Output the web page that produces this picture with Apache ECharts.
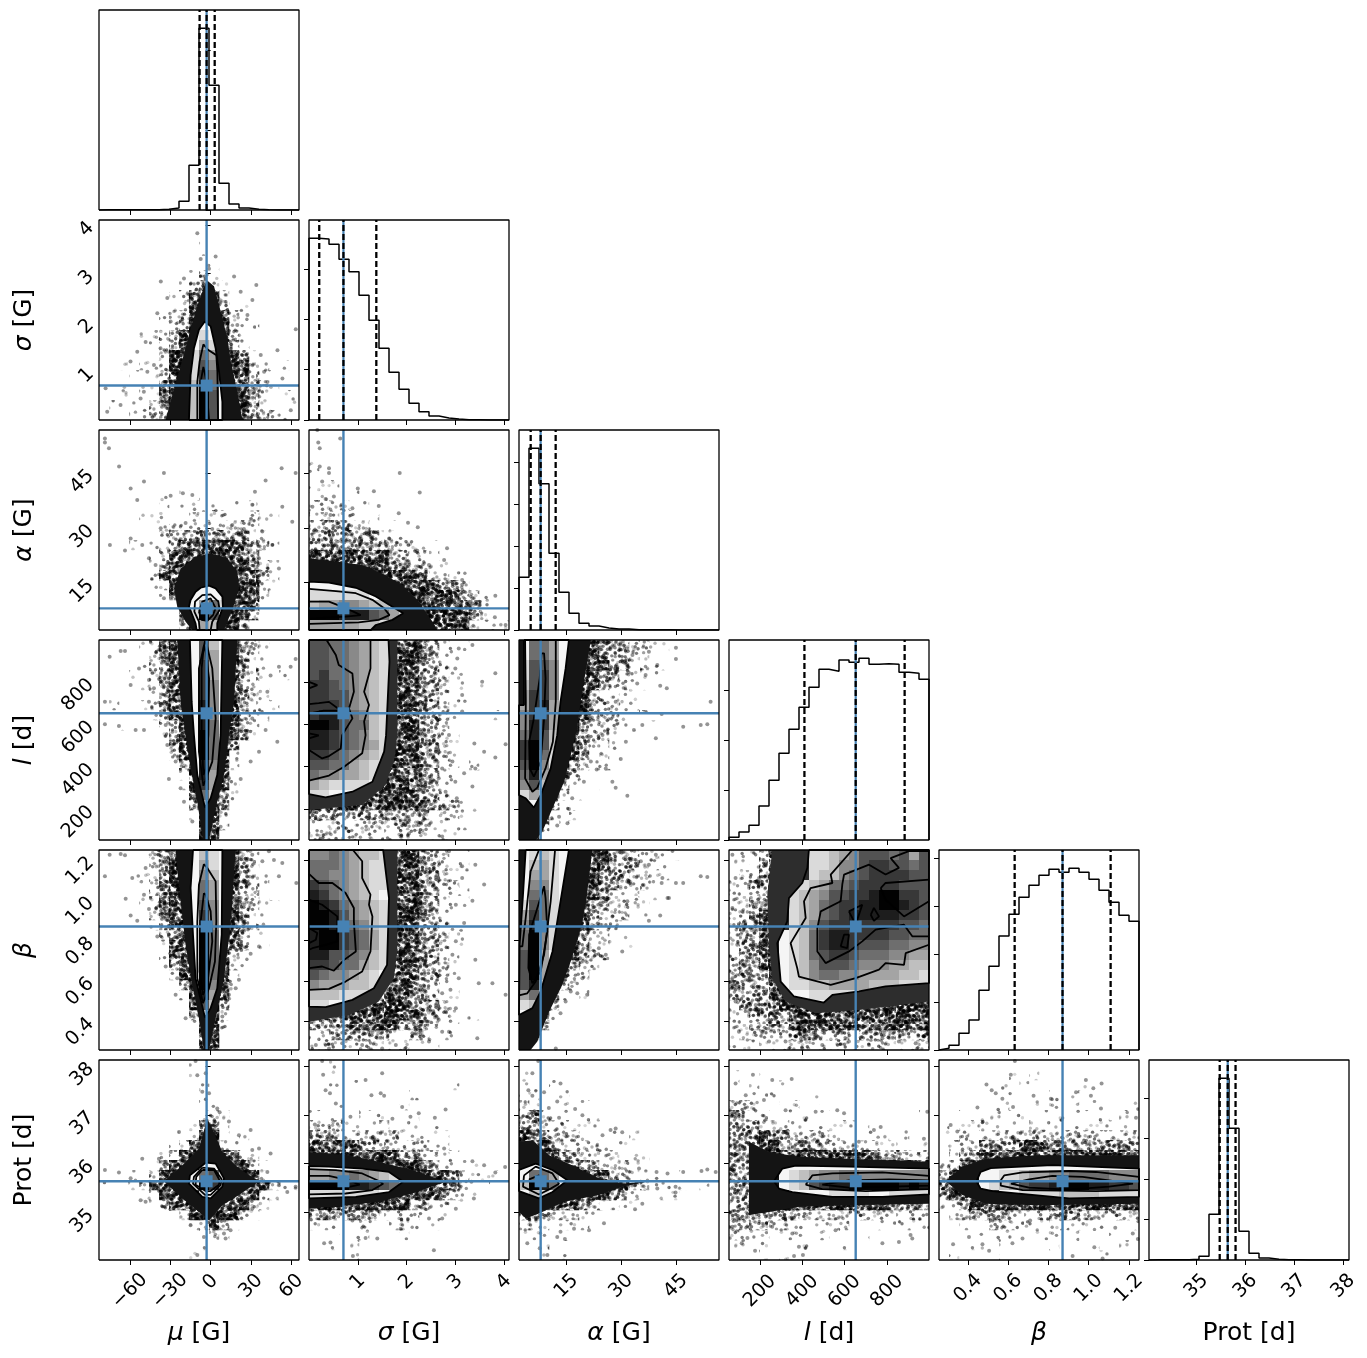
<!DOCTYPE html>
<html>
<head>
<meta charset="utf-8">
<title>corner plot</title>
<script src="https://cdn.jsdelivr.net/npm/echarts@6/dist/echarts.min.js"></script>
<style>
  html, body { margin: 0; padding: 0; background: #fff; }
  #chart { width: 1367px; height: 1358px; }
</style>
</head>
<body>
<div id="chart"></div>
<script>
'use strict';
// parameters, in corner order
var paramTitles = ['{i|μ} [G]', '{i|σ} [G]', '{i|α} [G]', '{i|l} [d]', '{i|β}', 'Prot [d]'];
var ranges = [[-82.9, 65.6], [0, 4.1], [2.03, 56.8], [54, 998], [0.256, 1.25], [34.03, 38.12]];
var ticks = [
  [-60, -30, 0, 30, 60],
  [1, 2, 3, 4],
  [15, 30, 45],
  [200, 400, 600, 800],
  [0.4, 0.6, 0.8, 1.0, 1.2],
  [35, 36, 37, 38]
];
var truth = [-3, 0.706, 7.96, 652, 0.87, 35.64];
var quantiles = [
  [-8.2, -3, 3],
  [0.21, 0.706, 1.38],
  [5.23, 7.96, 12.07],
  [410, 652, 883],
  [0.632, 0.87, 1.109],
  [35.476, 35.64, 35.8]
];

// histograms, 20 bins each, heights
var histMu = [0.2, 0.2, 0.2, 0.2, 0.2, 0.2, 0.7, 2, 8.7, 44.7, 181.7, 124.7, 26.7, 6, 2, 0.7, 0.2, 0, 0, 0];
var histSigma = [181.7, 181, 175.7, 160.7, 148.3, 124.7, 99.7, 71.7, 47.7, 30.7, 16.7, 8.3, 4, 2, 1, 0.3, 0.2, 0, 0, 0];
var histAlpha = [52.7, 181.7, 146.3, 76.7, 37.7, 16.7, 6.7, 4, 2, 1, 1, 0.3, 0.3, 0.2, 0.2, 0, 0, 0, 0, 0];
var histL = [2.7, 8, 14.7, 34, 59.7, 86.7, 110.7, 132.7, 152.7, 170.7, 168.7, 180, 177.7, 181.7, 175.7, 176.3, 175.7, 167.7, 166.7, 160.7];
var histBeta = [1.7, 4.7, 16.7, 30, 59.7, 83.7, 114, 135.7, 152.7, 164.7, 174.7, 180.7, 177.7, 181.7, 177.7, 170.7, 159.7, 147.7, 134.7, 128.7];
var histProt = [0.2, 0.2, 0.2, 0.2, 0.7, 3.7, 45.7, 181.7, 131.7, 28.7, 6.7, 2, 0.7, 0.2, 0.2, 0, 0, 0, 0, 0];
var histTicks = [
  [0, 80, 160],
  [0, 50.3, 100.6, 150.9],
  [0, 42, 84, 126, 168],
  [0, 50, 100, 150],
  [0, 48, 96, 144, 192],
  [0, 40.5, 81, 121.5, 162]
];

// density of the cloud per bin, top row first: . none, 1-4 thin to thick speckle
var fringeMuSigma = [
  '....................',
  '....................',
  '..........1.........',
  '..........1.........',
  '..........11........',
  '.........121........',
  '........12321.......',
  '.......1245421......',
  '.......12455311.....',
  '......123555421.....',
  '......1235554211....',
  '....11235555421.....',
  '...1.1235555431.1...',
  '...11.2455555431....',
  '..1.1124555555421.1.',
  '...1.1245555554211..',
  '..1.11345555555321..',
  '..1.1134555555532111',
  '.1.11234555555532.11',
  '.1.1123455555553211.'
];
var fringeMuAlpha = [
  '....................',
  '....................',
  '....................',
  '....................',
  '....................',
  '....................',
  '......1.1.11........',
  '....1.1.1111.1.1....',
  '....11111212111211..',
  '.....1122222222211..',
  '.....123333333322.1.',
  '...1.1234444444321..',
  '.....124555555431...',
  '.....1345555555321..',
  '.....2455555555531..',
  '.....1245555555421..',
  '......14555555542...',
  '.......1455555541...',
  '........34555543....',
  '........2455542.....'
];
var fringeSigmaAlpha = [
  '....................',
  '....................',
  '....................',
  '1...................',
  '1...................',
  '111.................',
  '111.1...............',
  '2222.1..............',
  '22211.1.............',
  '3333221.1...........',
  '33333332211.........',
  '3333333322211.......',
  '4444444433221.......',
  '55555544333221......',
  '5555555554432211....',
  '55555555555443321...',
  '555555555555544321..',
  '5555555555555544321.',
  '5555555555555554321.',
  '55555555555555542111'
];
var fringeMuL = [
  '....1234555554321...',
  '....1234555554321...',
  '....1234555554321...',
  '...1.234555554321.1.',
  '....1234555554321...',
  '.....234555554321...',
  '.1..12345555543211..',
  '.....134555554321...',
  '..1...23555554321...',
  '......1345555431....',
  '.......34555431.....',
  '.......2455541......',
  '........345542......',
  '........245541......',
  '........145541......',
  '.........45531......',
  '.........35531......',
  '.........1552.......',
  '..........552.......',
  '..........45........'
];
var fringeSigmaL = [
  '6666666666433211....',
  '6666666666433211....',
  '6666666666433211....',
  '6666666666433211....',
  '6666666666433211.1..',
  '6666666666433211....',
  '6666666666433211....',
  '666666666543321...1.',
  '666666666543321.....',
  '666666666543321.....',
  '666666666543321.....',
  '666666666543321.....',
  '666666666443321.1...',
  '666666666433321.....',
  '666666666433321.....',
  '6666666666433211....',
  '66666666554433211...',
  '33333333333322211...',
  '2222222223322111....',
  '222222222222111.....'
];
var fringeAlphaL = [
  '555555543332211.....',
  '555555543332211.....',
  '555555544332211.....',
  '55555554332211......',
  '5555555432211.......',
  '555555432211........',
  '555555432211........',
  '55555543221.1.......',
  '555555322211.1......',
  '5555543221..........',
  '5555543221..........',
  '5555543121..........',
  '5555532111..........',
  '5555431.............',
  '555531.1............',
  '55542.1.............',
  '55431...............',
  '5442.1..............',
  '342.1...............',
  '351.................'
];
var fringeMuBeta = [
  '....1234555554321...',
  '...11234555554321...',
  '...11234555554321...',
  '....1234555554321...',
  '....1234555554321...',
  '....12345555543211..',
  '.....234555554321...',
  '.....134555554321...',
  '......23555554311...',
  '......14555554311...',
  '......145555421.....',
  '.......34555421.....',
  '.......2455541......',
  '........345541......',
  '........145541......',
  '.........4553.......',
  '.........3552.......',
  '.........1551.......',
  '..........55........',
  '..........45........'
];
var fringeSigmaBeta = [
  '6666666666433211....',
  '6666666666433211....',
  '6666666666433211....',
  '6666666666433221....',
  '6666666666433211....',
  '6666666666433211....',
  '6666666666433211....',
  '6666666666433211....',
  '6666666666433211....',
  '6666666666433211....',
  '666666666643321.1...',
  '666666666543321.1...',
  '666666666443321.....',
  '666666664433211.....',
  '666666664433211.....',
  '66666666553332111...',
  '66666666554332111...',
  '333344444333211.....',
  '223333332222111.....',
  '2222222222111.......'
];
var fringeAlphaBeta = [
  '5555555543332211....',
  '555555554333221.....',
  '555555543332211.....',
  '55555554332221......',
  '55555554322211......',
  '5555554332211.......',
  '5555554322211.......',
  '555555432211........',
  '55555532211.........',
  '5555543221.1........',
  '555554322...........',
  '55555322............',
  '5555322.............',
  '555432..............',
  '55531.1.............',
  '5542................',
  '5531................',
  '542.................',
  '53..................',
  '41..................'
];
var fringeLBeta = [
  '11234666666666666666',
  '11234666666666666666',
  '12234566666666666666',
  '22334566666666666666',
  '22334566666666666666',
  '22334566666666666666',
  '22344666666666666666',
  '23344666666666666666',
  '23344666666666666666',
  '23344666666666666666',
  '23344666666666666666',
  '23344666666666666666',
  '23334666666666666666',
  '33334666666666666666',
  '33334466666666666666',
  '23333466666666666666',
  '22333346666666666666',
  '22333344444443444444',
  '12222333333323333333',
  '11122222222222222222'
];
var fringeMuProt = [
  '.........1..........',
  '.........1..........',
  '..........1.........',
  '..........1.........',
  '..........11........',
  '..........221.......',
  '.........1331.......',
  '.......1.1441.1.....',
  '.......1245421......',
  '......1245555421....',
  '.....124555555421...',
  '...1.245555555542.1.',
  '1.112455555555554211',
  '....12455555555421..',
  '.....124555555421...',
  '.......124555421....',
  '.........12421......',
  '..........121.......',
  '..........1.........',
  '.........1..........'
];
var fringeSigmaProt = [
  '..1.................',
  '..1.................',
  '..1.1.........1.....',
  '...1......1.........',
  '...1...1.1..........',
  '1111.1111.1.........',
  '22221112111.1.......',
  '33322222211111......',
  '44444332222211......',
  '555555444332221.....',
  '55555555544332111...',
  '5555555555554432111.',
  '55555555555554421.1.',
  '55555555555543211...',
  '5555554444332211....',
  '33333332222111......',
  '1111121.121.1.......',
  '..1.11.1.1..........',
  '..1.1...............',
  '....1...............'
];
var fringeAlphaProt = [
  '....................',
  '1...................',
  '11.1................',
  '11.11...............',
  '21.11.1.............',
  '33211.11............',
  '332221111...........',
  '4332221111.1........',
  '54432222111.........',
  '5554332222111.......',
  '5555543322211.......',
  '555555544322111.1...',
  '55555555554321111.1.',
  '5555555543321.11....',
  '555544332211........',
  '333222111...........',
  '2221111.............',
  '1111................',
  '1.1.1...............',
  '..1.1...............'
];
var fringeLProt = [
  '....................',
  '1..1................',
  '1.1..1..............',
  '11111...1...........',
  '22211.1.1...........',
  '3322111111.........1',
  '33322211111111......',
  '3334332222111111.1..',
  '33344333332222211111',
  '33345555544444433222',
  '33355555555555555544',
  '33455555555555555555',
  '33455555555555555555',
  '33445555555555555555',
  '33345554444444443333',
  '33333332222222222222',
  '22332211111211111111',
  '2112111111.1.1..1...',
  '11.1.1.1...1........',
  '...1.1..............'
];
var fringeBetaProt = [
  '....................',
  '.......1.1..........',
  '....1.1.1.....1..1..',
  '....1111...1.1......',
  '.....11..1.111.1...1',
  '..1.1111111111111.11',
  '1.112111121111111111',
  '11212222222222222222',
  '12223333444333333333',
  '12334444445554444444',
  '23455555555555555555',
  '34555555555555555555',
  '45555555555555555555',
  '34555555555555555555',
  '22344445555544444444',
  '12233332222333322222',
  '..1.1222211221111111',
  '...111111111.1.1.1..',
  '...11.1....1.1.1..1.',
  '.1....1.........1...'
];

// outline of the solid dark mass of each cloud, in data values
var denseMuSigma = [[-3, 2.87], [-8.7, 2.43], [-14.9, 1.88], [-18.6, 1.47], [-23.5, 0.99], [-28.5, 0.51], [-33.4, 0], [23.6, 0], [19.8, 0.58], [14.9, 1.2], [12.4, 1.68], [7.5, 2.22], [2.5, 2.74]];
var denseMuAlpha = [[-18.6, 4.3], [-24.8, 8.4], [-27.2, 13.4], [-22.3, 18.9], [-11.2, 22.1], [0, 23], [12.4, 21.7], [19.8, 18], [21, 13.4], [17.3, 8.9], [12.4, 4.3], [9.9, 2.03], [-13.6, 2.03]];
var denseSigmaAlpha = [[0, 21.7], [0.55, 20.8], [1.09, 19.8], [1.5, 17.5], [1.91, 14.4], [2.25, 9.8], [2.53, 4.3], [2.63, 2.03], [0, 2.03]];
var denseMuL = [[-24.8, 998], [-22.3, 707], [-18.6, 550], [-14.9, 392], [-9.9, 235], [-5.7, 54], [-1.2, 54], [3.7, 204], [9.9, 361], [13.6, 550], [17.3, 707], [19.8, 998]];
var denseSigmaL = [[0, 998], [1.81, 998], [1.81, 550], [1.74, 424], [1.57, 314], [1.09, 219], [0, 196]];
var denseAlphaL = [[2.03, 998], [21.7, 998], [18.9, 707], [18, 581], [16.2, 455], [14.4, 329], [11.6, 219], [8.4, 93], [6.6, 54], [2.03, 54]];
var denseMuBeta = [[-26, 1.25], [-22.3, 0.995], [-18.6, 0.779], [-13.6, 0.58], [-8.7, 0.414], [-5, 0.256], [-1.2, 0.256], [3.7, 0.414], [9.9, 0.613], [13.6, 0.812], [16.1, 0.995], [18.6, 1.25]];
var denseSigmaBeta = [[0, 1.25], [1.81, 1.25], [1.81, 0.746], [1.74, 0.613], [1.43, 0.497], [0.82, 0.43], [0, 0.397]];
var denseAlphaBeta = [[2.03, 1.25], [22.1, 1.25], [20.3, 0.978], [18.5, 0.829], [16.2, 0.696], [13.9, 0.58], [10.3, 0.447], [7.05, 0.298], [5.2, 0.256], [2.03, 0.256]];
var denseLBeta = [[258, 1.25], [235, 1.028], [243, 0.779], [258, 0.613], [321, 0.497], [463, 0.439], [667, 0.455], [998, 0.497], [998, 1.25]];
var denseMuProt = [[-2.5, 36.92], [-8.7, 36.31], [-21, 35.97], [-34.7, 35.64], [-21, 35.29], [-8.7, 35.01], [-1.2, 34.84], [8.7, 35.15], [21, 35.36], [35.9, 35.64], [21, 35.9], [8.7, 36.24], [1.2, 36.72]];
var denseSigmaProt = [[0, 36.24], [0.82, 36.17], [1.43, 36.04], [2.12, 35.87], [2.8, 35.63], [2.12, 35.39], [1.43, 35.22], [0.82, 35.15], [0, 35.08]];
var denseAlphaProt = [[2.03, 36.45], [5.7, 36.48], [10.3, 36.17], [16.6, 35.97], [23.9, 35.7], [30.3, 35.59], [37.6, 35.64], [30.3, 35.53], [23.9, 35.36], [14.4, 35.22], [7.5, 34.98], [3.9, 34.88], [2.03, 35.01]];
var denseLProt = [[148, 36.45], [243, 36.24], [384, 36.14], [620, 36.1], [998, 36.04], [998, 35.18], [620, 35.15], [384, 35.12], [243, 35.01], [148, 34.95]];
var denseBetaProt = [[0.289, 35.64], [0.372, 35.94], [0.488, 36.1], [0.737, 36.17], [1.25, 36.17], [1.25, 35.18], [0.737, 35.15], [0.488, 35.18], [0.372, 35.36]];

// grey level of each bin inside the lowest contour, 0 palest to 9 black
var coreMuSigma = [
  '....................', '....................', '....................', '....................', '....................',
  '....................', '....................', '....................', '....................', '....................',
  '..........00........',
  '.........010........',
  '.........031........',
  '.........1530.......',
  '.........1640.......',
  '.........1750.......',
  '.........2850.......',
  '.........2960.......',
  '.........2960.......',
  '.........2960.......'
];
var coreMuAlpha = [
  '....................', '....................', '....................', '....................', '....................',
  '....................', '....................', '....................', '....................', '....................',
  '....................', '....................', '....................', '....................', '....................',
  '.........000........',
  '.........0000.......',
  '.........0351.......',
  '.........1960.......',
  '.........032........'
];
var coreSigmaAlpha = [
  '....................', '....................', '....................', '....................', '....................',
  '....................', '....................', '....................', '....................', '....................',
  '....................', '....................', '....................', '....................', '....................',
  '000000000...........',
  '1111110000000.......',
  '2334432211000.......',
  '9998886531000.......',
  '3333322100..........'
];
var coreMuL = [
  '.........0620.......',
  '.........0630.......',
  '.........0730.......',
  '.........0730.......',
  '.........0740.......',
  '.........0740.......',
  '.........0840.......',
  '.........0840.......',
  '.........0850.......',
  '.........0950.......',
  '.........0950.......',
  '.........0950.......',
  '.........0840.......',
  '.........0830.......',
  '.........0730.......',
  '.........0520.......',
  '..........20........',
  '..........10........',
  '....................',
  '....................'
];
var coreSigmaL = [
  '665543210...........',
  '665543210...........',
  '665543210...........',
  '675543210...........',
  '776543210...........',
  '776643210...........',
  '777643210...........',
  '788654210...........',
  '998655210...........',
  '887654210...........',
  '887654310...........',
  '776543210...........',
  '665532100...........',
  '544332100...........',
  '321111000...........',
  '110000000...........',
  '....................',
  '....................',
  '....................',
  '....................'
];
var coreAlphaL = [
  '05530...............',
  '05530...............',
  '16640...............',
  '16740...............',
  '26740...............',
  '37740...............',
  '37830...............',
  '47730...............',
  '48730...............',
  '58620...............',
  '79620...............',
  '79510...............',
  '69410...............',
  '58300...............',
  '46200...............',
  '13000...............',
  '00000...............',
  '....................',
  '....................',
  '....................'
];
var coreMuBeta = [
  '.........0210.......',
  '.........0310.......',
  '.........0420.......',
  '.........0530.......',
  '.........0530.......',
  '.........0640.......',
  '.........0740.......',
  '.........0840.......',
  '.........0950.......',
  '.........0950.......',
  '.........0950.......',
  '.........0950.......',
  '.........0950.......',
  '.........0940.......',
  '.........0830.......',
  '.........0620.......',
  '..........10........',
  '....................',
  '....................',
  '....................'
];
var coreSigmaBeta = [
  '445432210...........',
  '555432110...........',
  '554432110...........',
  '765432110...........',
  '875432100...........',
  '987543210...........',
  '998643210...........',
  '998654210...........',
  '899765310...........',
  '899765310...........',
  '886654210...........',
  '776553210...........',
  '654432100...........',
  '433322100...........',
  '222111000...........',
  '110000000...........',
  '....................',
  '....................',
  '....................',
  '....................'
];
var coreAlphaBeta = [
  '01210...............',
  '02310...............',
  '03310...............',
  '04410...............',
  '05510...............',
  '16510...............',
  '37510...............',
  '48410...............',
  '59410...............',
  '59410...............',
  '69300...............',
  '69300...............',
  '69300...............',
  '68200...............',
  '35100...............',
  '12000...............',
  '0000................',
  '....................',
  '....................',
  '....................'
];
var coreLBeta = [
  '........112346665636',
  '........112446776656',
  '........122456777766',
  '......11235567777666',
  '......12346677899776',
  '......12356778899876',
  '......12356788888776',
  '......12467787777665',
  '.....012578877776655',
  '.....012578876665544',
  '.....012567765554433',
  '.....012466654443322',
  '.....012455443333221',
  '.....011223333222111',
  '......00111111100000',
  '.......00000........',
  '....................',
  '....................',
  '....................',
  '....................'
];
var coreMuProt = [
  '....................', '....................', '....................', '....................', '....................',
  '....................', '....................', '....................', '....................', '....................',
  '..........00........',
  '.........0561.......',
  '.........1971.......',
  '..........10........',
  '....................', '....................', '....................', '....................', '....................', '....................'
];
var coreSigmaProt = [
  '....................', '....................', '....................', '....................', '....................',
  '....................', '....................', '....................', '....................', '....................',
  '000000000000........',
  '3344543210000.......',
  '9999887653100.......',
  '1111111000..........',
  '....................', '....................', '....................', '....................', '....................', '....................'
];
var coreAlphaProt = [
  '....................', '....................', '....................', '....................', '....................',
  '....................', '....................', '....................', '....................', '....................',
  '00000...............',
  '05530...............',
  '29850...............',
  '02100...............',
  '....................', '....................', '....................', '....................', '....................', '....................'
];
var coreLProt = [
  '....................', '....................', '....................', '....................', '....................',
  '....................', '....................', '....................', '....................', '....................',
  '.....000000000000000',
  '.....012344554444444',
  '.....012678899999898',
  '......00001111001111',
  '....................', '....................', '....................', '....................', '....................', '....................'
];
var coreBetaProt = [
  '....................', '....................', '....................', '....................', '....................',
  '....................', '....................', '....................', '....................', '....................',
  '....0000000000000000',
  '....0011233445555444',
  '....0123677899988776',
  '......00111122221111',
  '....................', '....................', '....................', '....................', '....................', '....................'
];

// contour paths in data values; the first one is the lowest level and bounds the grey bins
var contoursMuSigma = [
  [[-16.1, 0], [-14.9, 0.92], [-12.4, 1.47], [-8.7, 1.85], [-4.4, 2.02], [0, 1.92], [3.7, 1.47], [6.2, 0.99], [8.7, 0.37], [8.7, 0]],
  [[-9.9, 0], [-9.9, 0.78], [-8.2, 1.2], [-5.4, 1.55], [-2, 1.44], [4.2, 1.33], [5, 0.99], [5.5, 0]],
  [[-7.9, 0], [-7.4, 0.78], [-5.4, 1.09], [-3.5, 0.85], [-1.2, 0]]
];
var contoursMuAlpha = [
  [[-10.4, 2.03], [-11.2, 3.86], [-13.6, 6.14], [-16.1, 8.42], [-14.9, 10.25], [-11.2, 12.5], [-7.4, 13.6], [-1.2, 14.17], [3.7, 13.44], [8.7, 11.16], [9.1, 8.42], [4.9, 3.86], [4.9, 2.03]],
  [[-8.2, 2.03], [-8.7, 4.3], [-12.1, 7.05], [-11.6, 9.8], [-6.2, 11.6], [0, 11.8], [5.7, 9.8], [6.7, 7.5], [1.2, 4.3], [0, 2.03]],
  [[-8.7, 7.05], [-6.2, 9.8], [0, 10.7], [3.7, 8], [1.7, 6.1], [-2.5, 4.5], [-6.7, 4.8], [-8.7, 7.05]]
];
var contoursSigmaAlpha = [
  [[0, 15.27], [0.41, 15], [0.96, 13.6], [1.37, 11.2], [1.71, 8.4], [1.93, 6.6], [1.71, 4.8], [1.37, 3.4], [1.27, 2.03], [0, 2.03]],
  [[0, 13.3], [0.55, 12.7], [0.96, 12.1], [1.3, 10.3], [1.54, 8], [1.65, 6.1], [1.43, 4.8], [1.02, 4.1], [0, 3.7]],
  [[0, 9.8], [0.41, 9.8], [0.79, 7.8], [1.06, 6.1], [0.75, 5.7], [0.34, 5.4], [0, 5.05]]
];
var contoursMuL = [
  [[-15.4, 998], [-14.1, 707], [-12.4, 550], [-9.9, 361], [-4.2, 207], [0, 251], [4.9, 361], [7.4, 550], [8.7, 998]],
  [[-4, 998], [-8.7, 864], [-8.7, 471], [-5.4, 310], [1.2, 424], [3.7, 628], [1.2, 864], [-3.7, 998]],
  [[-5, 974], [-6.7, 864], [-6.7, 550], [-5.4, 361], [-3.7, 392], [-1.7, 550], [-1.2, 817], [-3.7, 943], [-5, 974]]
];
var contoursSigmaL = [
  [[0, 998], [1.63, 998], [1.65, 896], [1.58, 549], [1.54, 471], [1.3, 329], [0.89, 282], [0.34, 255], [0, 271]],
  [[1.26, 998], [1.26, 864], [1.13, 754], [1.23, 691], [1.13, 613], [1.16, 549], [1.09, 463], [0.72, 400], [0.41, 358], [0, 334]],
  [[0.36, 998], [0.55, 927], [0.61, 880], [0.89, 840], [0.92, 754], [0.82, 675], [0.89, 628], [0.68, 549], [0.65, 486], [0.41, 450], [0.27, 439], [0, 479]],
  [[0, 695], [0.2, 700], [0.41, 706], [0.65, 665], [0.3, 665], [0, 650]],
  [[0, 770], [0.17, 785], [0, 800]],
  [[0, 534], [0.2, 548], [0, 557]]
];
var contoursAlphaL = [
  [[3.4, 998], [3.4, 691], [2.03, 691], [2.03, 266], [3.86, 251], [6.1, 207], [7.97, 266], [10.7, 392], [12.5, 549], [13.4, 707], [14.8, 864], [15.7, 998]],
  [[3.7, 998], [3.9, 707], [3.7, 345], [5.7, 282], [7.05, 301], [9.3, 392], [11.3, 518], [12.1, 707], [12.1, 998]],
  [[8.2, 935], [7.7, 817], [6.1, 628], [4.8, 518], [4.95, 392], [6.1, 353], [7.97, 424], [8.9, 628], [9.3, 817], [8.9, 935], [8.2, 935]]
];
var contoursMuBeta = [
  [[-13.1, 1.25], [-14.9, 1.061], [-13.1, 0.829], [-11.2, 0.613], [-4.2, 0.417], [0, 0.464], [4.9, 0.563], [8.2, 0.829], [8.7, 1.25]],
  [[-5, 1.18], [-8.7, 1.078], [-9.9, 0.895], [-9.9, 0.613], [-5.7, 0.489], [-1.2, 0.563], [3.2, 0.696], [4.2, 0.895], [3.7, 1.094], [-2.5, 1.161], [-5, 1.18]],
  [[-5, 1.036], [-7.4, 0.895], [-8.2, 0.646], [-5.7, 0.53], [-2.5, 0.58], [1.2, 0.796], [0, 0.945], [-3.7, 1.028], [-5, 1.036]]
];
var contoursSigmaBeta = [
  [[0, 1.25], [1.52, 1.25], [1.64, 1.011], [1.6, 0.679], [1.33, 0.563], [0.89, 0.505], [0.34, 0.469], [0, 0.472]],
  [[0.9, 1.25], [1.09, 1.194], [1.09, 1.11], [1.26, 1.028], [1.23, 0.978], [1.3, 0.92], [1.26, 0.746], [1.09, 0.646], [0.75, 0.596], [0.41, 0.56], [0, 0.555]],
  [[0, 1.131], [0.2, 1.086], [0.48, 1.086], [0.75, 1.036], [0.92, 0.962], [0.92, 0.895], [0.96, 0.746], [0.72, 0.704], [0.51, 0.65], [0.27, 0.671], [0, 0.663]],
  [[0, 1.003], [0.27, 0.978], [0.58, 0.92], [0.58, 0.796], [0.34, 0.779], [0.07, 0.762], [0, 0.754]],
  [[0, 0.862], [0.17, 0.837], [0.14, 0.804], [0, 0.787]]
];
var contoursAlphaBeta = [
  [[3.86, 1.25], [3.13, 1.028], [2.2, 0.779], [2.03, 0.43], [5.7, 0.464], [7.97, 0.547], [11.2, 0.746], [13.4, 0.995], [15.7, 1.25]],
  [[7.5, 1.25], [5.2, 1.144], [3.86, 0.912], [2.95, 0.771], [2.03, 0.771]],
  [[2.03, 0.527], [4.3, 0.538], [6.6, 0.596], [8.9, 0.729], [10.7, 0.995], [11.9, 1.25]],
  [[8.9, 1.07], [7.05, 0.962], [4.8, 0.829], [4.6, 0.663], [5.7, 0.588], [7.97, 0.646], [9.8, 0.845], [9.3, 1.011], [8.9, 1.07]]
];
var contoursLBeta = [
  [[431, 1.25], [424, 1.161], [400, 1.086], [337, 1.011], [329, 0.895], [282, 0.787], [298, 0.596], [361, 0.522], [502, 0.492], [542, 0.53], [667, 0.547], [793, 0.572], [998, 0.588], [998, 1.25]],
  [[636, 1.25], [534, 1.128], [542, 1.086], [439, 1.061], [408, 0.995], [416, 0.912], [345, 0.787], [376, 0.663], [384, 0.621], [534, 0.58], [652, 0.613], [762, 0.655], [793, 0.688], [880, 0.679], [888, 0.737], [998, 0.779]],
  [[998, 1.244], [903, 1.244], [817, 1.21], [856, 1.161], [793, 1.128], [715, 1.177], [597, 1.128], [589, 1.08], [581, 0.995], [487, 0.945], [471, 0.862], [471, 0.746], [510, 0.688], [620, 0.746], [683, 0.796], [746, 0.854], [880, 0.879], [919, 0.821], [998, 0.821]],
  [[770, 1.061], [793, 1.086], [998, 1.103]],
  [[998, 0.995], [880, 0.92], [793, 1.003], [770, 1.061]],
  [[581, 0.771], [597, 0.829], [620, 0.829], [612, 0.762], [581, 0.771]],
  [[620, 0.945], [683, 0.978], [652, 0.879], [620, 0.945]],
  [[723, 0.928], [738, 0.962], [762, 0.92], [738, 0.898], [723, 0.928]]
];
var contoursMuProt = [
  [[-3.7, 36.02], [3.7, 36], [9.9, 35.7], [8.7, 35.53], [0, 35.29], [-6.2, 35.32], [-16.1, 35.59], [-15.4, 35.76], [-3.7, 36.02]],
  [[-6.2, 35.92], [2.5, 35.9], [8.2, 35.68], [7.4, 35.56], [0, 35.36], [-4.2, 35.36], [-13.1, 35.59], [-12.4, 35.73], [-6.2, 35.92]],
  [[-6.2, 35.87], [2.5, 35.87], [6.7, 35.66], [6.2, 35.57], [0, 35.44], [-3.7, 35.44], [-11.2, 35.57], [-10.7, 35.73], [-6.2, 35.87]]
];
var contoursSigmaProt = [
  [[0, 35.95], [0.41, 35.94], [1.09, 35.9], [1.64, 35.83], [1.93, 35.63], [1.64, 35.42], [0.96, 35.32], [0, 35.29]],
  [[0, 35.89], [0.55, 35.87], [1.09, 35.8], [1.4, 35.66], [1.52, 35.59], [1.3, 35.46], [0.75, 35.39], [0, 35.37]],
  [[0, 35.75], [0.41, 35.75], [0.82, 35.66], [1.04, 35.57], [0.75, 35.51], [0, 35.48]]
];
var contoursAlphaProt = [
  [[2.03, 35.87], [6.6, 36], [11.2, 35.87], [15.3, 35.66], [11.2, 35.42], [7.5, 35.29], [2.03, 35.44]],
  [[3.4, 35.76], [6.6, 35.94], [11.2, 35.8], [13, 35.59], [10.7, 35.49], [7.5, 35.37], [3.13, 35.53], [3.4, 35.76]],
  [[4.8, 35.68], [7.5, 35.76], [8.9, 35.63], [6.6, 35.51], [4.8, 35.68]]
];
var contoursLProt = [
  [[266, 35.64], [306, 35.9], [369, 35.96], [620, 35.94], [998, 35.9], [998, 35.37], [778, 35.32], [542, 35.32], [353, 35.42], [290, 35.49]],
  [[416, 35.57], [447, 35.76], [542, 35.8], [778, 35.82], [998, 35.75], [998, 35.48], [699, 35.44], [494, 35.48], [416, 35.57]],
  [[494, 35.57], [620, 35.66], [809, 35.68], [998, 35.66], [998, 35.55], [620, 35.51], [494, 35.57]]
];
var contoursBetaProt = [
  [[0.442, 35.64], [0.463, 35.83], [0.513, 35.91], [0.82, 35.97], [1.25, 35.9], [1.25, 35.32], [0.903, 35.29], [0.522, 35.44], [0.463, 35.49]],
  [[0.563, 35.66], [0.58, 35.76], [0.671, 35.82], [0.903, 35.85], [1.036, 35.83], [1.25, 35.73], [1.25, 35.46], [1.036, 35.44], [0.671, 35.46], [0.563, 35.55], [0.563, 35.66]],
  [[0.613, 35.59], [0.704, 35.68], [0.82, 35.75], [0.97, 35.73], [1.1, 35.66], [1.22, 35.59], [1.1, 35.53], [0.903, 35.47], [0.704, 35.51], [0.613, 35.59]]
];

// single samples read from the sparse outskirts of each cloud
var pointsMuSigma = [[-59.5, 1.2], [-78, 0.65], [63.2, 1.86], [-9.9, 3.83], [3.7, 3.35], [-37, 2.84], [33.9, 2.77], [31, 2.46], [-39.6, 2.19], [-48.3, 1.6], [-54.5, 1.4], [49.6, 1.43], [53.3, 0.85], [59.5, 0.2], [42.1, 0.78], [-76.8, 0.17], [-66.9, 0.31], [-49.6, 0.58], [-32.2, 2.5], [-19.8, 2.9], [17.4, 2.94], [22.3, 2.63], [-29.7, 2.02], [-37.2, 1.47], [-42.1, 1.13], [37.2, 1.33], [39.7, 0.99], [34.7, 0.51], [-42.1, 0.1], [-52, 0.44], [27.3, 2.15], [19.8, 1.95], [-7.4, 3.3], [-1.2, 3.1], [-47, 0.99], [44.6, 0.17]];
var pointsMuAlpha = [[-78.5, 54.5], [-78.5, 53.4], [-75.5, 51.8], [-68, 46.8], [-34.7, 45], [63.1, 45], [52.7, 46.3], [-59.4, 40.8], [-49.5, 42.7], [40.8, 43], [32.9, 39.9], [-20.6, 39.5], [-13.6, 39], [-54.5, 37.6], [-29.7, 38.8], [53.2, 35.8], [60.6, 31.7], [-74.8, 25.3], [-63.6, 23.8], [-59.4, 27.1], [-37.1, 29.9], [24.7, 29.7], [16.1, 30.8], [1.2, 29.7], [-18.6, 31.3], [38.4, 29], [45.8, 25.3], [50.7, 18.9], [35.9, 15.3], [-45.8, 21.7], [-40.9, 19.8], [-50.8, 25.3], [30.9, 36.3], [-23.5, 25.8], [21, 28.1], [-34.7, 10.7], [35.9, 21.7]];
var pointsSigmaAlpha = [[0.17, 56.8], [0.19, 53.4], [0.22, 51.8], [0.64, 54.5], [0.22, 46.8], [0.41, 46.3], [0.41, 45], [1.86, 45], [0.27, 42.7], [1, 40.8], [1.33, 40], [2.27, 39.7], [0.51, 38.6], [0.34, 37.9], [1.43, 36], [0.89, 35.4], [0.44, 33.5], [0.07, 35.8], [2.03, 31.4], [2.23, 30.2], [1.23, 29], [1.84, 34], [2.77, 21.2], [2.83, 24.4], [2.22, 23.7], [3.14, 15.7], [3.35, 10.7], [3.35, 9.3], [3.82, 11.4], [3.81, 5.5], [3.41, 6.1], [4.03, 3.4], [3.14, 14.4], [2.46, 19.8], [1.64, 27.1], [0.82, 30.8]];
var pointsMuL = [[-63.6, 946], [-66.8, 946], [63.1, 908], [-75, 919], [-78.5, 707], [-78.5, 600], [-68.1, 592], [-59.4, 786], [-45.8, 809], [-53.2, 864], [49.5, 518], [59.4, 872], [50.7, 872], [40.8, 573], [42.1, 754], [44.5, 830], [33.4, 974], [35.9, 471], [-45.8, 707], [-55.7, 573], [-49.5, 573], [-32.2, 502], [-31, 342], [22.3, 342], [13.6, 345], [29.7, 424], [30.9, 628], [26, 550], [-26, 424], [-33.4, 597], [26, 754], [-42.1, 770], [-37.1, 691], [-19.8, 235], [9.9, 235], [7.4, 117], [-13.6, 141], [-22.3, 298]];
var pointsSigmaL = [[3.35, 306], [3.82, 841], [4.03, 506], [3.82, 443], [3.59, 471], [3.39, 510], [3.18, 369], [3.03, 251], [3.55, 801], [3.04, 911], [2.73, 70], [2.46, 125], [3.41, 392], [3.14, 660], [2.87, 550], [3.14, 738], [3, 864], [2.94, 424], [2.66, 345], [3, 329], [2.8, 282], [2.25, 125], [2.05, 85], [1.88, 70], [3.07, 958], [3.35, 974], [2.6, 471], [2.73, 392], [2.46, 235], [2.12, 172]];
var pointsAlphaL = [[45, 908], [45, 962], [54.5, 707], [53.6, 600], [51.8, 597], [47, 589], [39.5, 534], [41.1, 649], [40.7, 782], [42.5, 770], [31.7, 263], [28.5, 301], [27.6, 329], [29.9, 436], [23.3, 387], [35.8, 597], [33.5, 573], [31.3, 518], [34.4, 793], [36.7, 833], [39.9, 880], [33.1, 927], [28.5, 864], [25.8, 392], [19.8, 329], [15.3, 133], [13, 164], [15.7, 200], [16.6, 251], [12.5, 122], [37.6, 943], [28.5, 707], [24.9, 550], [21.7, 424]];
var pointsMuBeta = [[-63.6, 1.224], [-78.5, 1.119], [-75, 1.227], [-66.8, 1.23], [53.2, 1.186], [63.6, 1.086], [50.7, 1.119], [-63.1, 1.008], [-59.4, 0.925], [-54.5, 0.898], [-45.8, 0.957], [-39.6, 0.82], [38.4, 1.194], [47, 1.2], [35.9, 0.771], [29.7, 0.734], [-33.4, 0.671], [-26, 0.53], [-24.8, 0.613], [22.3, 1.011], [28.5, 0.862], [21, 0.605], [18.6, 0.563], [13.6, 0.53], [8.7, 0.422], [-18.6, 0.414], [-58.2, 1.111], [-48.3, 1.161], [43.3, 1.244], [-49.5, 1.028], [-38.4, 1.227], [30.9, 1.227], [23.5, 0.845], [-31, 0.829], [-37.1, 0.928]];
var pointsSigmaBeta = [[3.35, 0.998], [3.59, 1.078], [4.03, 0.53], [3.76, 0.588], [3.48, 0.588], [2.9, 0.555], [3.01, 0.464], [2.73, 0.538], [3.41, 1.177], [3.14, 1.169], [3.18, 0.887], [3.41, 0.704], [2.94, 0.729], [2.87, 1.244], [2.87, 0.347], [2.66, 0.406], [2.46, 0.464], [2.12, 0.339], [2.46, 0.298], [2.8, 0.447], [1.78, 0.281], [3.14, 1.111], [3.01, 0.978], [3.01, 0.796], [3.07, 0.613], [2.73, 0.347], [3.45, 0.314], [0.14, 0.281], [0.68, 0.289], [1.09, 0.281], [0.41, 0.264], [1.5, 0.264]];
var pointsAlphaBeta = [[45, 1.086], [43.1, 1.011], [51.8, 1.119], [53.6, 1.116], [47, 1.086], [41.3, 1.111], [41.1, 1.086], [42.7, 1.011], [40.7, 0.925], [37.6, 0.898], [31.7, 0.995], [30.3, 0.746], [27.6, 0.92], [25.8, 0.729], [20.7, 0.53], [18, 0.538], [23, 0.729], [35.4, 1.194], [39.5, 1.227], [32.2, 1.144], [28.5, 1.061], [24.4, 0.879], [23.9, 0.762], [13.4, 0.439], [12.1, 0.264], [14.8, 0.497], [16.2, 0.547], [19.4, 0.613], [25.8, 0.995], [37.6, 1.177]];
var pointsLBeta = [[70, 1.227], [85, 1.111], [70, 0.962], [148, 1.078], [117, 0.945], [93, 0.779], [70, 0.613], [133, 0.679], [164, 0.862], [85, 0.497], [101, 0.347], [148, 0.447], [180, 0.48], [211, 0.347], [243, 0.298], [321, 0.298], [400, 0.264], [494, 0.281], [620, 0.298], [715, 0.281], [856, 0.298], [935, 0.289], [463, 0.331], [778, 0.314], [196, 1.111], [227, 1.177], [180, 0.779], [196, 0.613], [274, 0.414], [620, 0.364], [982, 0.331]];
var pointsMuProt = [[-11.2, 38.1], [-9.9, 37.81], [-3.7, 37.85], [-6.2, 37.47], [-1.2, 37.44], [6.7, 37.05], [13.6, 36.86], [-23.5, 36.65], [29.7, 36.69], [35.9, 36.31], [30.9, 36.28], [44.5, 36.21], [21, 36.58], [-78.5, 35.87], [-68.1, 35.82], [-59.4, 35.7], [-50.8, 36.1], [-52, 35.25], [-48.3, 35.22], [63.1, 35.53], [56.9, 35.42], [42.1, 35.83], [50.7, 35.56], [-9.9, 34.13], [-5, 34.5], [9.9, 34.57], [14.8, 34.64], [11.1, 34.47], [-14.9, 34.74], [30.9, 35.08], [-38.4, 36.1], [-33.4, 36.04], [-29.7, 36.24], [4.9, 37.13]];
var pointsSigmaProt = [[0.27, 38.1], [0.29, 37.82], [1.16, 37.71], [1.5, 37.85], [0.34, 37.5], [0.43, 37.44], [1.28, 37.4], [1.47, 37.44], [1.54, 37.39], [0.55, 37.23], [1.91, 37.16], [2.8, 37.11], [2.25, 37.03], [2.58, 36.94], [2.08, 36.96], [0.85, 36.96], [0.12, 36.8], [1.71, 36.92], [2.77, 36.31], [3.35, 36.05], [3.59, 35.97], [3.82, 35.82], [4.02, 35.93], [3.33, 35.63], [3.38, 35.29], [3.01, 35.08], [2.73, 34.88], [2.56, 34.23], [0.9, 34.11], [0.44, 34.39], [0.31, 34.37], [1.16, 34.48], [1.4, 34.47], [1.88, 34.67], [2.46, 34.88], [0.89, 34.84]];
var pointsAlphaProt = [[7.3, 38.1], [5.7, 37.85], [13.4, 37.64], [4.6, 37.5], [8.9, 37.46], [5.7, 37.39], [12.5, 37.27], [10.2, 37.14], [17.4, 37.12], [19.4, 36.99], [13, 36.94], [30.3, 36.64], [27.1, 36.69], [28.5, 36.72], [24.9, 36.58], [34.9, 35.9], [39.7, 35.83], [42.7, 35.8], [47, 35.83], [52, 35.85], [53.6, 35.88], [55.9, 35.83], [44.9, 35.53], [44.9, 35.41], [39.9, 35.49], [33.8, 35.07], [35.8, 35.18], [21.2, 34.64], [25.3, 34.78], [17.1, 34.67], [13.4, 34.61], [14.6, 34.46], [12.5, 34.5], [9.8, 34.13], [4.3, 34.37], [7.7, 34.27]];
var pointsLProt = [[85, 37.64], [133, 37.4], [167, 37.82], [258, 37.71], [350, 37.73], [219, 37.3], [321, 37.09], [990, 37.06], [565, 37.09], [463, 37.06], [597, 37.03], [738, 36.69], [770, 36.75], [974, 36.51], [667, 36.45], [70, 34.71], [114, 34.37], [141, 34.48], [177, 34.22], [285, 34.02], [361, 34.11], [384, 34.3], [403, 34.13], [557, 34.64], [778, 34.37], [911, 34.54], [856, 34.4], [919, 34.47], [258, 34.71], [353, 34.57]];
var pointsBetaProt = [[0.633, 38.1], [0.613, 37.82], [0.492, 37.62], [0.518, 37.5], [0.538, 37.44], [0.726, 37.39], [0.571, 37.33], [0.447, 37.15], [0.624, 37.16], [0.986, 37.71], [1.064, 37.64], [0.937, 37.46], [1.011, 37.39], [1.023, 37.54], [1.235, 36.94], [1.061, 37.13], [0.812, 37.33], [0.347, 36.66], [0.314, 36.79], [0.405, 34.5], [0.472, 34.35], [0.326, 34.35], [0.505, 34.22], [0.621, 34.37], [0.671, 34.47], [0.92, 34.11], [1.028, 34.29], [1.069, 34.06], [1.244, 34.46], [1.219, 34.57], [0.709, 34.84], [1.132, 34.69]];

var hists = [histMu, histSigma, histAlpha, histL, histBeta, histProt];
// [col, row, fringe, dense, dense colour, core, contours, points]
var DARK = '#141414', CHARCOAL = '#2d2d2d';
var panels = [
  [0, 1, fringeMuSigma, denseMuSigma, DARK, coreMuSigma, contoursMuSigma, pointsMuSigma],
  [0, 2, fringeMuAlpha, denseMuAlpha, DARK, coreMuAlpha, contoursMuAlpha, pointsMuAlpha],
  [1, 2, fringeSigmaAlpha, denseSigmaAlpha, DARK, coreSigmaAlpha, contoursSigmaAlpha, pointsSigmaAlpha],
  [0, 3, fringeMuL, denseMuL, DARK, coreMuL, contoursMuL, pointsMuL],
  [1, 3, fringeSigmaL, denseSigmaL, CHARCOAL, coreSigmaL, contoursSigmaL, pointsSigmaL],
  [2, 3, fringeAlphaL, denseAlphaL, DARK, coreAlphaL, contoursAlphaL, pointsAlphaL],
  [0, 4, fringeMuBeta, denseMuBeta, DARK, coreMuBeta, contoursMuBeta, pointsMuBeta],
  [1, 4, fringeSigmaBeta, denseSigmaBeta, CHARCOAL, coreSigmaBeta, contoursSigmaBeta, pointsSigmaBeta],
  [2, 4, fringeAlphaBeta, denseAlphaBeta, DARK, coreAlphaBeta, contoursAlphaBeta, pointsAlphaBeta],
  [3, 4, fringeLBeta, denseLBeta, CHARCOAL, coreLBeta, contoursLBeta, pointsLBeta],
  [0, 5, fringeMuProt, denseMuProt, DARK, coreMuProt, contoursMuProt, pointsMuProt],
  [1, 5, fringeSigmaProt, denseSigmaProt, DARK, coreSigmaProt, contoursSigmaProt, pointsSigmaProt],
  [2, 5, fringeAlphaProt, denseAlphaProt, DARK, coreAlphaProt, contoursAlphaProt, pointsAlphaProt],
  [3, 5, fringeLProt, denseLProt, DARK, coreLProt, contoursLProt, pointsLProt],
  [4, 5, fringeBetaProt, denseBetaProt, DARK, coreBetaProt, contoursBetaProt, pointsBetaProt]
];

var TRUTH_COLOR = '#4682b4';
var FONT = '"DejaVu Sans"';

// speckle texture for the thin parts of a cloud: only a fill style, the bins say where it goes
function hash(n) {
  var v = Math.sin(n * 12.9898) * 43758.5453;
  return v - Math.floor(v);
}
function speckleTile(count, alpha, seed) {
  var size = 128;
  var c = document.createElement('canvas');
  c.width = c.height = size;
  var ctx = c.getContext('2d');
  for (var i = 0; i < count; i++) {
    var x = hash(seed + i * 2 + 0.5) * size, y = hash(seed + i * 2 + 1.5) * size;
    ctx.fillStyle = 'rgba(0,0,0,' + (alpha * (0.35 + 0.9 * hash(seed + i * 3 + 0.25))) + ')';
    ctx.beginPath();
    ctx.arc(x, y, 1.7, 0, Math.PI * 2);
    ctx.fill();
  }
  return { image: c, repeat: 'repeat' };
}
var speckleFill = {
  1: speckleTile(170, 0.45, 11),
  2: speckleTile(650, 0.5, 23),
  3: speckleTile(1800, 0.55, 37),
  4: speckleTile(4200, 0.65, 53)
};

function cellsFrom(rows, col, row) {
  var xr = ranges[col], yr = ranges[row];
  var dx = (xr[1] - xr[0]) / 20, dy = (yr[1] - yr[0]) / 20;
  var out = [];
  rows.forEach(function (line, r) {
    for (var c = 0; c < 20; c++) {
      var level = parseInt(line.charAt(c), 10);
      if (isNaN(level)) continue;
      out.push([xr[0] + c * dx, yr[1] - (r + 1) * dy, xr[0] + (c + 1) * dx, yr[1] - r * dy, level]);
    }
  });
  return out;
}

function renderFringe(params, api) {
  var a = api.coord([api.value(0), api.value(1)]);
  var b = api.coord([api.value(2), api.value(3)]);
  return {
    type: 'rect',
    shape: { x: a[0], y: b[1], width: b[0] - a[0] + 0.3, height: a[1] - b[1] + 0.3 },
    style: { fill: speckleFill[Math.min(api.value(4), 4)] }
  };
}

function makeDenseRenderer(outline, color) {
  return function (params, api) {
    return {
      type: 'polygon',
      shape: { points: outline.map(function (p) { return api.coord(p); }) },
      style: { fill: color }
    };
  };
}

function makeCoreRenderer(outline) {
  return function (params, api) {
    var a = api.coord([api.value(0), api.value(1)]);
    var b = api.coord([api.value(2), api.value(3)]);
    var g = 245 - api.value(4) * 27;
    return {
      type: 'rect',
      shape: { x: a[0], y: b[1], width: b[0] - a[0] + 0.3, height: a[1] - b[1] + 0.3 },
      style: { fill: 'rgb(' + g + ',' + g + ',' + g + ')' },
      clipPath: { type: 'polygon', shape: { points: outline.map(function (p) { return api.coord(p); }) } }
    };
  };
}

function lineSeries(g, data, color, width, z, dash) {
  return {
    type: 'line', xAxisIndex: g, yAxisIndex: g, data: data, symbol: 'none', z: z, silent: true,
    lineStyle: { color: color, width: width, type: dash || 'solid' }
  };
}

function tickText(col, v) {
  if (col === 4) return v.toFixed(1);
  return String(v).replace('-', '\u2212');
}

function xLabel(col) {
  return function (v) {
    var s = tickText(col, v);
    return '{t' + Math.min(s.length, 3) + (col === 4 ? 'd' : '') + '|' + s + '}';
  };
}

var grids = [], xAxes = [], yAxes = [], series = [];
var nameRich = { i: { fontStyle: 'italic', fontFamily: FONT, fontSize: 25, color: '#000' } };
var tickRich = {
  t1: { fontFamily: FONT, fontSize: 19.4, color: '#000' },
  t2: { fontFamily: FONT, fontSize: 19.4, color: '#000', padding: [6, 6, 0, 0] },
  t3: { fontFamily: FONT, fontSize: 19.4, color: '#000', padding: [13, 13, 0, 0] },
  t3d: { fontFamily: FONT, fontSize: 19.4, color: '#000', padding: [9, 9, 0, 0] }
};

function addGrid(col, row) {
  var g = grids.length;
  grids.push({ left: 99 + col * 210, top: 10 + row * 210, width: 200, height: 200 });
  var xt = ticks[col];
  xAxes.push({
    gridIndex: g, type: 'value', min: ranges[col][0], max: ranges[col][1],
    splitLine: { show: false }, axisLine: { show: false },
    axisTick: { show: true, length: 5, customValues: xt, lineStyle: { color: '#000', width: 1 } },
    axisLabel: { show: row === 5, customValues: xt, rotate: 45, align: 'center', verticalAlign: 'middle', margin: 22, formatter: xLabel(col), rich: tickRich, hideOverlap: false },
    name: row === 5 ? paramTitles[col] : '', nameLocation: 'middle', nameGap: 61,
    nameTextStyle: { fontFamily: FONT, fontSize: 25, color: '#000', rich: nameRich }
  });
  var isHist = col === row;
  var yt = isHist ? histTicks[col] : ticks[row];
  yAxes.push({
    gridIndex: g, type: 'value',
    min: isHist ? 0 : ranges[row][0], max: isHist ? 200 : ranges[row][1],
    splitLine: { show: false }, axisLine: { show: false },
    axisTick: { show: true, length: 5, customValues: yt, lineStyle: { color: '#000', width: 1 } },
    axisLabel: {
      show: col === 0 && row > 0, customValues: yt, rotate: 45, margin: 8, hideOverlap: false,
      fontFamily: FONT, fontSize: 19.4, color: '#000',
      formatter: function (v) { return tickText(row, v); }
    },
    name: col === 0 && row > 0 ? paramTitles[row] : '', nameLocation: 'middle', nameGap: 62,
    nameTextStyle: { fontFamily: FONT, fontSize: 25, color: '#000', rich: nameRich }
  });
  // frame drawn as a series so it sits over the marks
  var xr = ranges[col], y0 = yAxes[g].min, y1 = yAxes[g].max;
  series.push(lineSeries(g, [[xr[0], y0], [xr[0], y1], [xr[1], y1], [xr[1], y0], [xr[0], y0]], '#000', 1.3, 20));
  series[series.length - 1].clip = false;
  return g;
}

// diagonal histograms
hists.forEach(function (h, k) {
  var g = addGrid(k, k);
  var xr = ranges[k], dx = (xr[1] - xr[0]) / h.length;
  var path = [[xr[0], 0]];
  h.forEach(function (v, i) {
    path.push([xr[0] + i * dx, v]);
    path.push([xr[0] + (i + 1) * dx, v]);
  });
  path.push([xr[1], 0]);
  series.push(lineSeries(g, path, '#000', 1.5, 5));
  series.push(lineSeries(g, [[truth[k], 0], [truth[k], 200]], TRUTH_COLOR, 2.2, 6));
  quantiles[k].forEach(function (q) {
    series.push(lineSeries(g, [[q, 0], [q, 200]], '#000', 2.3, 7, [6, 3]));
  });
});

// pair panels
panels.forEach(function (p) {
  var col = p[0], row = p[1], dense = p[3], contours = p[6];
  var g = addGrid(col, row);
  var enc = { x: [0, 2], y: [1, 3] };
  series.push({
    type: 'custom', xAxisIndex: g, yAxisIndex: g, data: cellsFrom(p[2], col, row),
    encode: enc, clip: true, silent: true, z: 1, renderItem: renderFringe
  });
  series.push({
    type: 'scatter', xAxisIndex: g, yAxisIndex: g, data: p[7], symbolSize: 4, silent: true, z: 2,
    itemStyle: { color: '#000', opacity: 0.42 }
  });
  series.push({
    type: 'custom', xAxisIndex: g, yAxisIndex: g, data: [dense[0]],
    encode: { x: 0, y: 1 }, clip: true, silent: true, z: 2, renderItem: makeDenseRenderer(dense, p[4])
  });
  series.push({
    type: 'custom', xAxisIndex: g, yAxisIndex: g, data: cellsFrom(p[5], col, row),
    encode: enc, clip: true, silent: true, z: 3, renderItem: makeCoreRenderer(contours[0])
  });
  contours.forEach(function (c, i) {
    var path = i === 0 ? c.concat([c[0]]) : c;
    series.push(lineSeries(g, path, '#000', 1.8, 4));
  });
  var xr = ranges[col], yr = ranges[row];
  series.push(lineSeries(g, [[truth[col], yr[0]], [truth[col], yr[1]]], TRUTH_COLOR, 2.4, 6));
  series.push(lineSeries(g, [[xr[0], truth[row]], [xr[1], truth[row]]], TRUTH_COLOR, 2.4, 6));
  series.push({
    type: 'scatter', xAxisIndex: g, yAxisIndex: g, data: [[truth[col], truth[row]]],
    symbol: 'rect', symbolSize: 12, silent: true, z: 7, itemStyle: { color: TRUTH_COLOR, opacity: 1 }
  });
});

var chart = echarts.init(document.getElementById('chart'), null, { renderer: 'canvas' });
chart.setOption({
  animation: false,
  backgroundColor: '#fff',
  grid: grids,
  xAxis: xAxes,
  yAxis: yAxes,
  series: series
});
</script>
</body>
</html>
